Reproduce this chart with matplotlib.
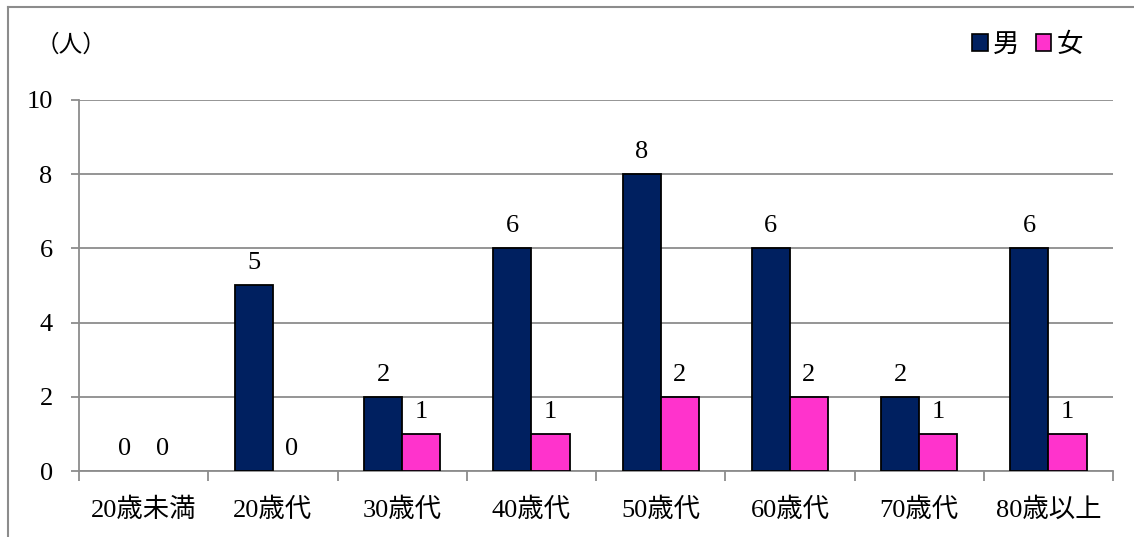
import numpy as np
import matplotlib
matplotlib.use('Agg')
import matplotlib.pyplot as plt
from matplotlib.patches import Patch
from matplotlib.lines import Line2D

plt.rcParams['font.family'] = ['Liberation Serif', 'Noto Sans CJK JP']

categories = ['20歳未満', '20歳代', '30歳代', '40歳代', '50歳代', '60歳代', '70歳代', '80歳以上']
male = [0, 5, 2, 6, 8, 6, 2, 6]
female = [0, 0, 1, 1, 2, 2, 1, 1]
yticks = [0, 2, 4, 6, 8, 10]

c_male = '#002060'
c_female = '#FF33CC'
grid_c = '#8C8C8C'
fs = 19

fig = plt.figure(figsize=(11.34, 5.37), dpi=100)
ax = fig.add_axes([0.0697, 0.1229, 0.9118, 0.6909])

x = np.arange(len(categories))
w = 0.295
b1 = ax.bar(x - w / 2, male, w, color=c_male, edgecolor='black',
            linewidth=[1.3 if v else 0 for v in male], zorder=3)
b2 = ax.bar(x + w / 2, female, w, color=c_female, edgecolor='black',
            linewidth=[1.3 if v else 0 for v in female], zorder=3)

for bars, vals in ((b1, male), (b2, female)):
    for r, v in zip(bars, vals):
        ax.annotate(str(v), (r.get_x() + r.get_width() / 2, v), xytext=(0, 8),
                    textcoords='offset points', ha='center', va='bottom', fontsize=fs)

ax.set_xlim(-0.5, len(categories) - 0.5)
ax.set_ylim(0, 10)
ax.set_yticks(yticks)
ax.set_yticklabels([str(t) for t in yticks], fontsize=fs)
ax.yaxis.grid(True, color=grid_c, linewidth=1.3, zorder=0)
ax.set_axisbelow(True)

ax.set_xticks(x)
ax.set_xticklabels(categories, fontsize=fs)
ax.set_xticks(np.arange(-0.5, len(categories)), minor=True)
ax.tick_params(axis='x', which='major', length=0, pad=19)
ax.tick_params(axis='x', which='minor', length=7, width=1.3, color=grid_c)
ax.tick_params(axis='y', length=6, width=1.3, color=grid_c, pad=13)

for s in ['top', 'right']:
    ax.spines[s].set_visible(False)
for s in ['left', 'bottom']:
    ax.spines[s].set_color(grid_c)
    ax.spines[s].set_linewidth(1.3)

fig.text(0.031, 0.915, '（人）', fontsize=fs - 2, va='center')

handles = [Patch(facecolor=c_male, edgecolor='black', linewidth=1.2),
           Patch(facecolor=c_female, edgecolor='black', linewidth=1.2)]
fig.legend(handles, ['男', '女'], loc='center right', bbox_to_anchor=(0.976, 0.917),
           ncol=2, frameon=False, fontsize=fs, handlelength=0.6, handleheight=0.6,
           handletextpad=0.2, columnspacing=0.6)

# outer chart frame
fig.add_artist(Line2D([8 / 1134, 8 / 1134], [0, 1 - 7 / 537], color=grid_c, lw=1.5,
                      transform=fig.transFigure))
fig.add_artist(Line2D([8 / 1134, 1], [1 - 7 / 537, 1 - 7 / 537], color=grid_c, lw=1.5,
                      transform=fig.transFigure))

fig.savefig('out.png', dpi=100)
